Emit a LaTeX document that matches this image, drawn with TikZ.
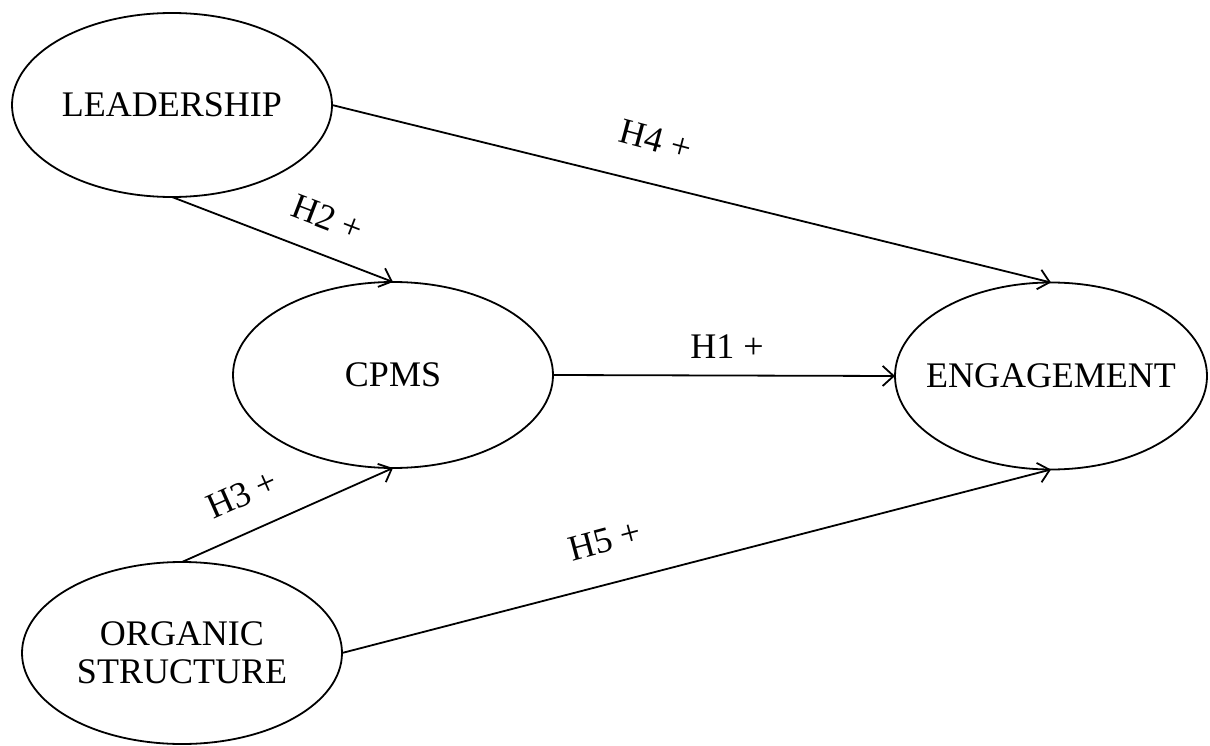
\documentclass[tikz,border=0pt]{standalone}
\usepackage{fontspec}
\setmainfont{Liberation Serif}
\usetikzlibrary{shapes.geometric,arrows.meta}
% zero-width text so the ellipse size is fixed by minimum width/height only
\newcommand\ctext[1]{\makebox[0pt]{#1}}
\tikzset{
  construct/.style={ellipse, draw, line width=1.8pt, inner sep=0pt, outer sep=0pt,
    font=\fontsize{36}{38}\selectfont, align=center},
  path/.style={line width=1.8pt, -{Straight Barb[length=11pt,width=20pt,line width=1.8pt]}},
  hyp/.style={font=\fontsize{36}{38}\selectfont, inner sep=0pt}
}
\begin{document}
\begin{tikzpicture}[x=1pt,y=-1pt]
  \useasboundingbox (0,0) rectangle (1210,746);

  % latent constructs
  \node[construct, minimum width=320pt, minimum height=184pt] (lead) at (172,105) {\ctext{LEADERSHIP}};
  \node[construct, minimum width=320pt, minimum height=186pt] (cpms) at (393,375) {\ctext{CPMS}};
  \node[construct, minimum width=312pt, minimum height=187pt] (eng)  at (1051,376) {\ctext{ENGAGEMENT}};
  \node[construct, minimum width=320pt, minimum height=182pt] (org)  at (182,653) {\ctext{ORGANIC}\\\ctext{STRUCTURE}};

  % hypothesised paths
  \draw[path] (lead.south) -- (cpms.north);
  \draw[path] (lead.east)  -- (eng.north);
  \draw[path] (cpms.east)  -- (eng.west);
  \draw[path] (org.north)  -- (cpms.south);
  \draw[path] (org.east)   -- (eng.south);

  % hypothesis labels
  \node[hyp, rotate=-21] (h2) at (328,218) {H2 +};
  \node[hyp, rotate=-15] (h4) at (656,140) {H4 +};
  \node[hyp]             (h1) at (727,347) {H1 +};
  \node[hyp, rotate=24]  (h3) at (242,494) {H3 +};
  \node[hyp, rotate=15]  (h5) at (605,541) {H5 +};
\end{tikzpicture}
\end{document}
